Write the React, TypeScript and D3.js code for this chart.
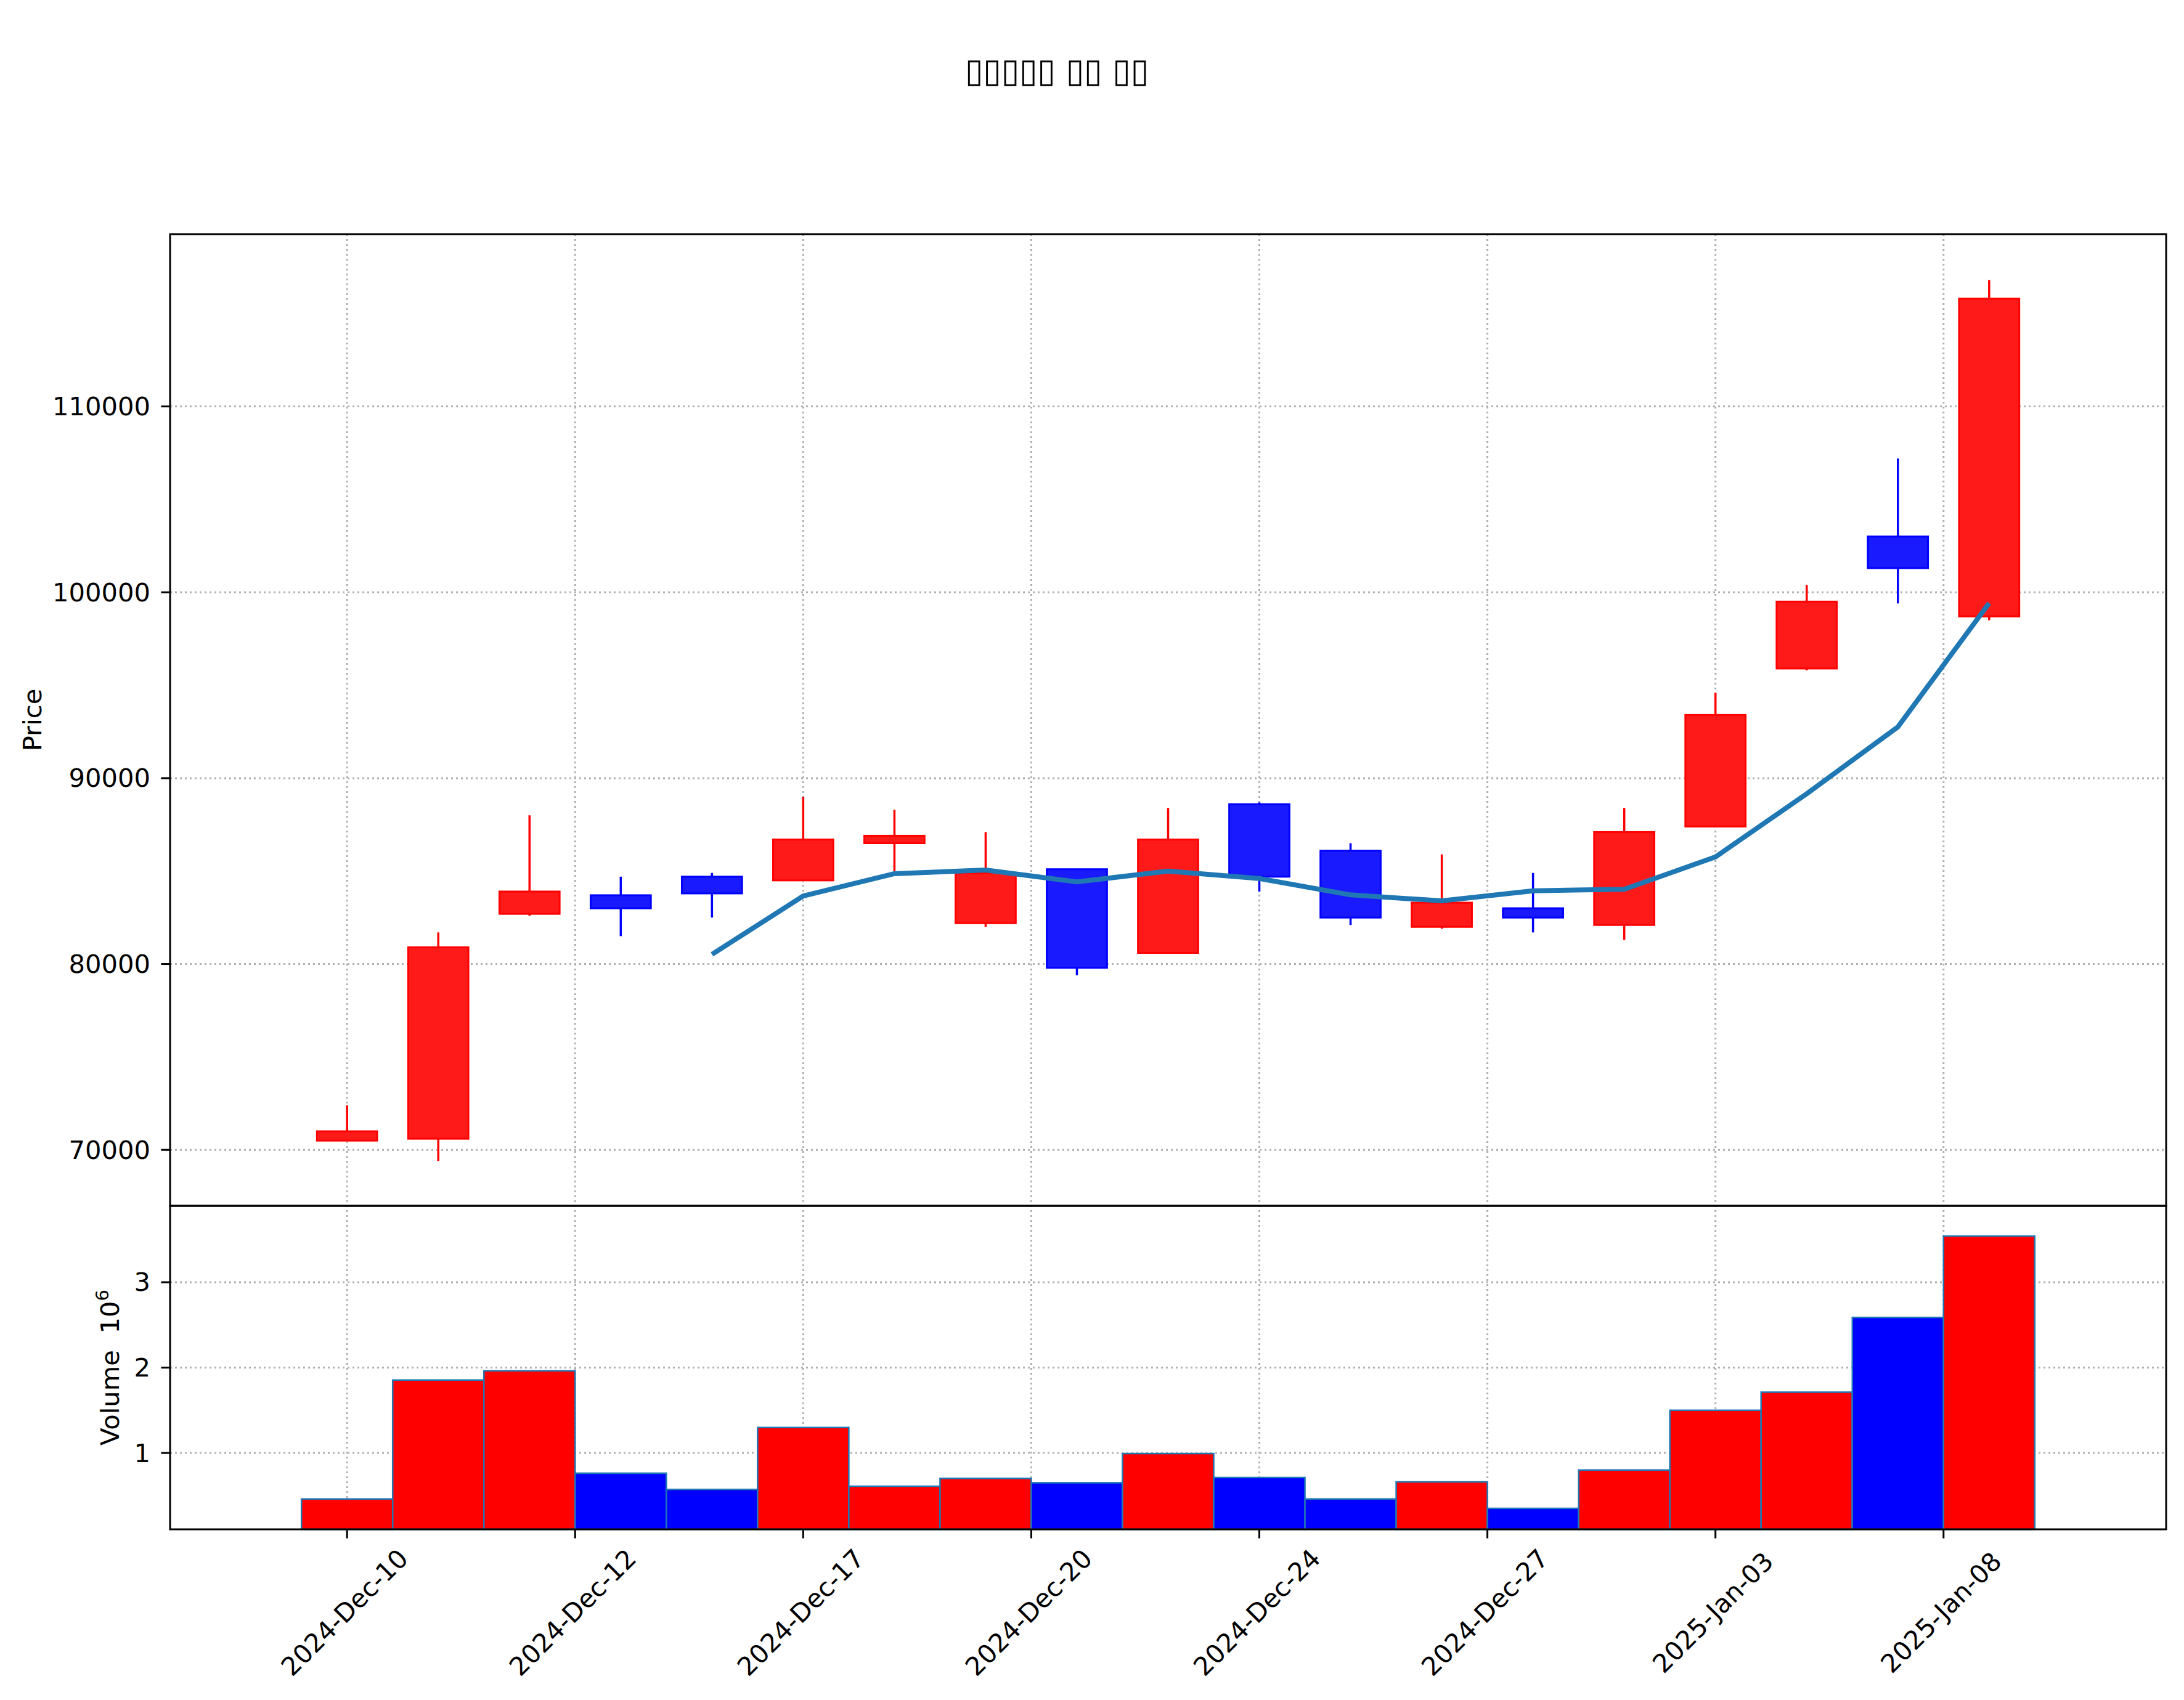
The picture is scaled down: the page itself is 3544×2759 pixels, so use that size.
import React from "react";
import * as d3 from "d3";

// ---- data ----
const dates = [
  "2024-12-10", "2024-12-11", "2024-12-12", "2024-12-13", "2024-12-16",
  "2024-12-17", "2024-12-18", "2024-12-19", "2024-12-20", "2024-12-23",
  "2024-12-24", "2024-12-26", "2024-12-27", "2024-12-30", "2025-01-02",
  "2025-01-03", "2025-01-06", "2025-01-07", "2025-01-08",
];
const opens = [70500, 70600, 82700, 83700, 84700, 84500, 86500, 82200, 85100, 80600, 88600, 86100, 82000, 83000, 82100, 87400, 95900, 103000, 98700];
const highs = [72400, 81700, 88000, 84700, 84900, 89000, 88300, 87100, 85100, 88400, 88700, 86500, 85900, 84900, 88400, 94600, 100400, 107200, 116800];
const lows = [70500, 69400, 82600, 81500, 82500, 84500, 85000, 82000, 79400, 80600, 83900, 82100, 81900, 81700, 81300, 87400, 95800, 99400, 98500];
const closes = [71000, 80900, 83900, 83000, 83800, 86700, 86900, 84900, 79800, 86700, 84700, 82500, 83300, 82500, 87100, 93400, 99500, 101300, 115800];
const volumes = [0.461e6, 1.854e6, 1.963e6, 0.763e6, 0.573e6, 1.298e6, 0.61e6, 0.702e6, 0.651e6, 0.993e6, 0.712e6, 0.461e6, 0.661e6, 0.351e6, 0.8e6, 1.5e6, 1.712e6, 2.588e6, 3.541e6];

const priceTicks = [70000, 80000, 90000, 100000, 110000];
const volumeTicks = [1e6, 2e6, 3e6];
const xTickPositions = [0, 2.5, 5, 7.5, 10, 12.5, 15, 17.5];
const xTickLabels = ["2024-Dec-10", "2024-Dec-12", "2024-Dec-17", "2024-Dec-20", "2024-Dec-24", "2024-Dec-27", "2025-Jan-03", "2025-Jan-08"];
const titleText = "\u25AF\u25AF\u25AF\u25AF\u25AF \u25AF\u25AF \u25AF\u25AF";
const maWindow = 5;

// ---- layout ----
const W = 3544;
const H = 2759;
const left = 276;
const right = 3515;
const priceTop = 380;
const priceBottom = 1957;
const volBottom = 2482;
const FONT = "DejaVu Sans";
const FS = 41.67;

const UP = "#ff0000";
const DOWN = "#0000ff";
const UP_FILL = "#ff1a1a";
const DOWN_FILL = "#1a1aff";
const GRID = "#b0b0b0";

export default function App() {
  const n = dates.length;
  const x = d3.scaleLinear().domain([-1.94, n - 1 + 1.94]).range([left, right]);
  const yP = d3.scaleLinear().domain([66990, 119270]).range([priceBottom, priceTop]);
  const vMin = d3.min(volumes)!;
  const vMax = d3.max(volumes)!;
  const yV = d3.scaleLinear().domain([0.3 * vMin, 1.1 * vMax]).range([volBottom, priceBottom]);

  const ma: [number, number][] = [];
  for (let i = maWindow - 1; i < n; i++) {
    ma.push([i, d3.mean(closes.slice(i - maWindow + 1, i + 1))!]);
  }
  const maLine = d3.line<[number, number]>().x((d) => x(d[0])).y((d) => yP(d[1]));

  const unit = x(1) - x(0);
  const bodyW = 0.66 * unit;

  const gridProps = {
    stroke: GRID,
    strokeWidth: 3,
    strokeDasharray: "3 5",
  };

  return (
    <svg
      width={W}
      height={H}
      style={{ position: "absolute", left: 0, top: 0, background: "#fff" }}
      fontFamily={FONT}
    >
      <rect x={0} y={0} width={W} height={H} fill="#fff" />
      {/* title */}
      <text x={1566} y={133} fontSize={54} fill="#000" textLength={298} lengthAdjust="spacingAndGlyphs">
        {titleText}
      </text>

      {/* grids */}
      <g>
        {priceTicks.map((t) => (
          <line key={"pg" + t} x1={left} x2={right} y1={yP(t)} y2={yP(t)} {...gridProps} />
        ))}
        {volumeTicks.map((t) => (
          <line key={"vg" + t} x1={left} x2={right} y1={yV(t)} y2={yV(t)} {...gridProps} />
        ))}
        {xTickPositions.map((p) => (
          <line key={"xg" + p} x1={x(p)} x2={x(p)} y1={priceTop} y2={volBottom} {...gridProps} />
        ))}
      </g>

      {/* candles */}
      <g>
        {dates.map((d, i) => {
          const up = closes[i] >= opens[i];
          const c = up ? UP : DOWN;
          const top = yP(Math.max(opens[i], closes[i]));
          const bot = yP(Math.min(opens[i], closes[i]));
          return (
            <g key={"c" + d}>
              <line x1={x(i)} x2={x(i)} y1={yP(highs[i])} y2={yP(lows[i])} stroke={c} strokeWidth={3.5} />
              <rect
                x={x(i) - bodyW / 2}
                y={top}
                width={bodyW}
                height={Math.max(bot - top, 1)}
                fill={up ? UP_FILL : DOWN_FILL}
                stroke={c}
                strokeWidth={3}
              />
            </g>
          );
        })}
      </g>

      {/* moving average */}
      <path d={maLine(ma)!} fill="none" stroke="#1f77b4" strokeWidth={8} strokeLinejoin="round" />

      {/* volume bars */}
      <g>
        {volumes.map((v, i) => {
          const up = closes[i] >= opens[i];
          return (
            <rect
              key={"v" + i}
              x={x(i - 0.5)}
              y={yV(v)}
              width={x(i + 0.5) - x(i - 0.5)}
              height={volBottom - yV(v)}
              fill={up ? UP : DOWN}
              stroke="#1f77b4"
              strokeWidth={2.5}
            />
          );
        })}
      </g>

      {/* frames */}
      <rect x={left} y={priceTop} width={right - left} height={priceBottom - priceTop} fill="none" stroke="#000" strokeWidth={3} />
      <rect x={left} y={priceBottom} width={right - left} height={volBottom - priceBottom} fill="none" stroke="#000" strokeWidth={3} />

      {/* y ticks: price */}
      {priceTicks.map((t) => (
        <g key={"pt" + t}>
          <line x1={left - 14.6} x2={left} y1={yP(t)} y2={yP(t)} stroke="#000" strokeWidth={3} />
          <text x={left - 32} y={yP(t)} fontSize={FS} textAnchor="end" dominantBaseline="central">
            {t}
          </text>
        </g>
      ))}
      {/* y ticks: volume */}
      {volumeTicks.map((t) => (
        <g key={"vt" + t}>
          <line x1={left - 14.6} x2={left} y1={yV(t)} y2={yV(t)} stroke="#000" strokeWidth={3} />
          <text x={left - 32} y={yV(t)} fontSize={FS} textAnchor="end" dominantBaseline="central">
            {t / 1e6}
          </text>
        </g>
      ))}

      {/* x ticks */}
      {xTickPositions.map((p, k) => (
        <g key={"xt" + p}>
          <line x1={x(p)} x2={x(p)} y1={volBottom} y2={volBottom + 14.6} stroke="#000" strokeWidth={3} />
          <text
            transform={`translate(${x(p) - 4},${2617}) rotate(-45)`}
            fontSize={FS}
            textAnchor="middle"
            dominantBaseline="central"
          >
            {xTickLabels[k]}
          </text>
        </g>
      ))}

      {/* axis labels */}
      <text transform={`translate(67,${(priceTop + priceBottom) / 2}) rotate(-90)`} fontSize={FS} textAnchor="middle">
        Price
      </text>
      <text
        transform={`translate(193,${(priceBottom + volBottom) / 2}) rotate(-90)`}
        fontSize={FS}
        textAnchor="middle"
        style={{ whiteSpace: "pre" }}
      >
        <tspan>{"Volume  10"}</tspan>
        <tspan fontSize={FS * 0.7} dy={-17}>6</tspan>
      </text>
    </svg>
  );
}
